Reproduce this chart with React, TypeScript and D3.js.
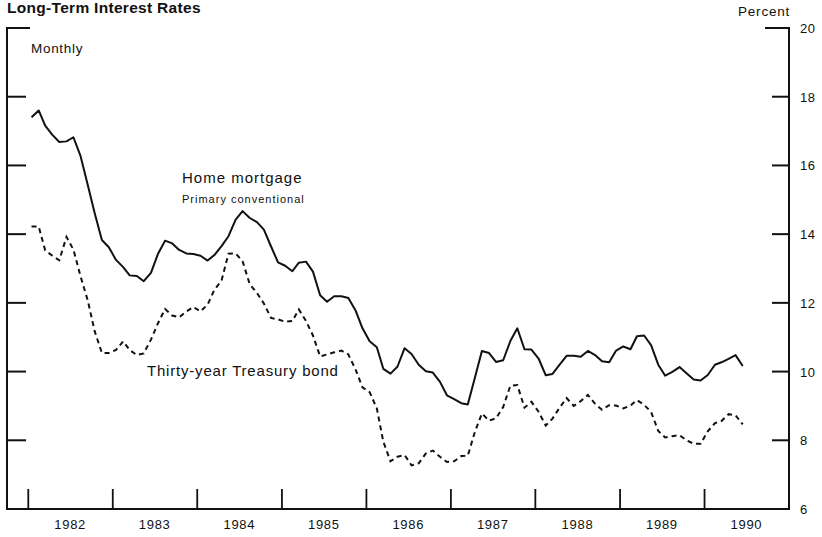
import React from 'react';
import * as d3 from 'd3';

// monthly, Jan 1982 - Jun 1990, percent
const mortgage = [
  17.40, 17.60, 17.16, 16.89, 16.68, 16.70, 16.82, 16.27, 15.43, 14.61, 13.83, 13.62,
  13.25, 13.04, 12.80, 12.78, 12.63, 12.87, 13.42, 13.81, 13.73, 13.54, 13.44, 13.42,
  13.37, 13.23, 13.39, 13.65, 13.94, 14.42, 14.67, 14.47, 14.35, 14.13, 13.64, 13.18,
  13.08, 12.92, 13.17, 13.20, 12.91, 12.22, 12.03, 12.19, 12.19, 12.14, 11.78, 11.26,
  10.88, 10.71, 10.08, 9.94, 10.14, 10.68, 10.51, 10.20, 10.01, 9.97, 9.70, 9.31,
  9.20, 9.08, 9.04, 9.83, 10.60, 10.54, 10.28, 10.33, 10.89, 11.26, 10.65, 10.64,
  10.38, 9.89, 9.93, 10.20, 10.46, 10.46, 10.43, 10.60, 10.48, 10.30, 10.27, 10.61,
  10.73, 10.65, 11.03, 11.05, 10.77, 10.20, 9.88, 9.99, 10.13, 9.95, 9.77, 9.74,
  9.90, 10.20, 10.27, 10.37, 10.48, 10.16,
];

const treasury = [
  14.22, 14.22, 13.53, 13.37, 13.24, 13.92, 13.55, 12.77, 12.07, 11.17, 10.54, 10.54,
  10.63, 10.88, 10.63, 10.48, 10.53, 10.93, 11.40, 11.82, 11.63, 11.58, 11.75, 11.88,
  11.75, 11.95, 12.38, 12.65, 13.43, 13.44, 13.21, 12.54, 12.29, 11.98, 11.56, 11.52,
  11.45, 11.47, 11.81, 11.47, 11.05, 10.44, 10.50, 10.56, 10.61, 10.50, 10.06, 9.54,
  9.40, 8.93, 7.96, 7.39, 7.52, 7.57, 7.27, 7.33, 7.62, 7.70, 7.52, 7.37,
  7.39, 7.54, 7.55, 8.25, 8.78, 8.57, 8.64, 8.97, 9.59, 9.61, 8.95, 9.12,
  8.83, 8.43, 8.63, 8.95, 9.23, 9.00, 9.14, 9.32, 9.06, 8.89, 9.02, 9.01,
  8.93, 9.01, 9.17, 9.03, 8.83, 8.27, 8.08, 8.12, 8.15, 8.00, 7.90, 7.90,
  8.26, 8.50, 8.56, 8.76, 8.73, 8.46,
];

const yTicks = [6, 8, 10, 12, 14, 16, 18, 20];
const years = [1982, 1983, 1984, 1985, 1986, 1987, 1988, 1989, 1990];

const width = 822;
const height = 537;
const left = 7;
const right = 789;
const top = 28;
const bottom = 509;
const font = '"Liberation Sans", Arial, sans-serif';

const App = () => {
  const months = d3.timeMonth.range(new Date(1982, 0, 1), new Date(1990, 6, 1));
  const dates = months.map(m => d3.timeDay.offset(m, 14));

  const x = d3.scaleTime()
    .domain([new Date(1981, 9, 1), new Date(1991, 0, 1)])
    .range([left, right]);
  const y = d3.scaleLinear().domain([6, 20]).range([bottom, top]);

  const chartLine = d3.line<number>()
    .x((d, i) => x(dates[i]))
    .y(d => y(d));

  return (
    <svg width={width} height={height} style={{ position: 'absolute', left: 0, top: 0 }} fontFamily={font}>
      <rect width={width} height={height} fill="#fff" />
      <text x={7} y={13} fontSize={15.5} fontWeight="bold" letterSpacing={0.3} fill="#111">Long-Term Interest Rates</text>
      <text x={738} y={16} fontSize={13.5} letterSpacing={0.8} fill="#111">Percent</text>

      {/* frame */}
      <g stroke="#111" strokeWidth={2} fill="none">
        <line x1={left} y1={top - 1} x2={left} y2={bottom + 1} />
        <line x1={left} y1={top} x2={left + 23} y2={top} />
        <line x1={right} y1={top - 1} x2={right} y2={bottom + 1} />
        <line x1={right - 24} y1={top} x2={right} y2={top} />
        <line x1={left} y1={bottom} x2={right} y2={bottom} />
        {yTicks.filter(t => t > 6 && t < 20).map(t => (
          <g key={t}>
            <line x1={left} y1={y(t)} x2={left + 19} y2={y(t)} />
            <line x1={right - 17} y1={y(t)} x2={right} y2={y(t)} />
          </g>
        ))}
        {years.map(yr => (
          <line key={yr} x1={x(new Date(yr, 0, 1))} y1={bottom} x2={x(new Date(yr, 0, 1))} y2={bottom - 20} strokeWidth={1.8} />
        ))}
      </g>

      {yTicks.map(t => (
        <text key={t} x={800} y={y(t) + 5} fontSize={13} letterSpacing={0.4} fill="#111">{t}</text>
      ))}
      {years.map(yr => (
        <text key={yr} x={x(new Date(yr, 6, 1))} y={529} fontSize={13} letterSpacing={0.7} textAnchor="middle" fill="#111">{yr}</text>
      ))}

      <path d={chartLine(mortgage) || ''} fill="none" stroke="#111" strokeWidth={2} strokeLinejoin="round" />
      <path d={chartLine(treasury) || ''} fill="none" stroke="#111" strokeWidth={2} strokeDasharray="5,4" />

      <text x={31} y={53} fontSize={13.5} letterSpacing={0.7} fill="#111">Monthly</text>
      <text x={182} y={183} fontSize={15} letterSpacing={1} fill="#111">Home mortgage</text>
      <text x={182} y={203} fontSize={11} letterSpacing={1} fill="#111">Primary conventional</text>
      <text x={147} y={376} fontSize={15} letterSpacing={0.8} fill="#111">Thirty-year Treasury bond</text>
    </svg>
  );
};

export default App;
